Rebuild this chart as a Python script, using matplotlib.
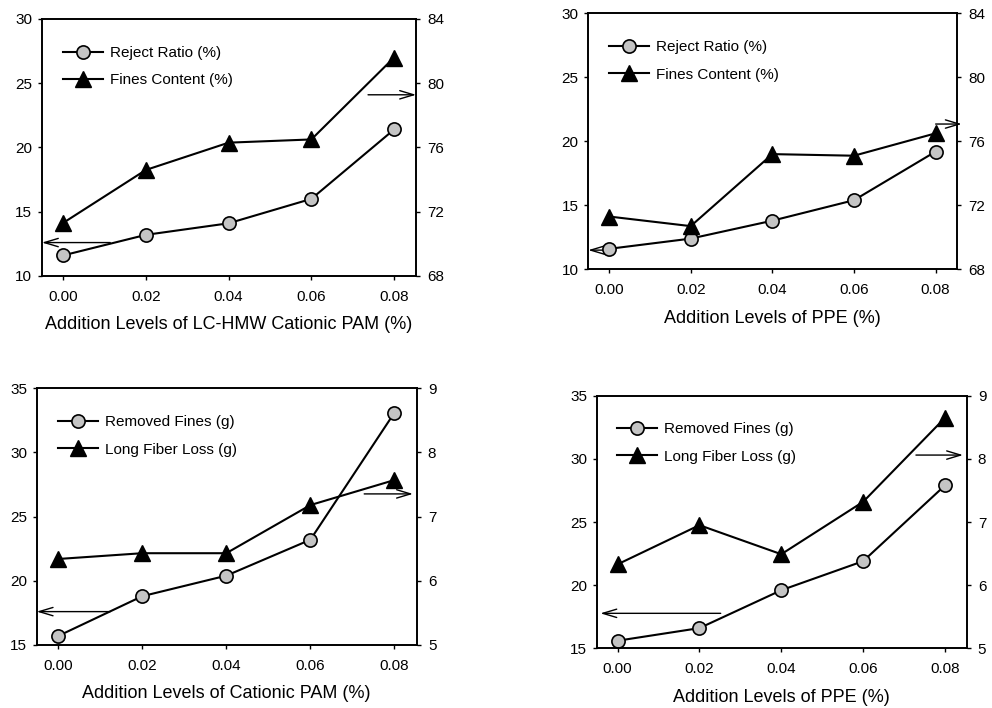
"""Four-panel dual-axis plot: reject ratio / fines vs. polymer addition levels."""
import matplotlib
matplotlib.use("Agg")
import matplotlib.pyplot as plt

plt.rcParams["font.family"] = ["Liberation Sans", "DejaVu Sans"]

# ---- data ----
levels = [0.00, 0.02, 0.04, 0.06, 0.08]
level_labels = ["0.00", "0.02", "0.04", "0.06", "0.08"]

cpam_reject = [11.6, 13.2, 14.1, 16.0, 21.4]
cpam_fines = [71.3, 74.6, 76.3, 76.5, 81.6]
ppe_reject = [11.6, 12.4, 13.8, 15.4, 19.2]
ppe_fines = [71.3, 70.7, 75.2, 75.1, 76.5]

cpam_removed = [15.7, 18.8, 20.4, 23.2, 33.1]
cpam_fiber_loss = [6.34, 6.43, 6.43, 7.18, 7.57]
ppe_removed = [15.6, 16.6, 19.6, 21.9, 27.9]
ppe_fiber_loss = [6.33, 6.95, 6.49, 7.32, 8.65]

top_left_ticks = [10, 15, 20, 25, 30]
top_right_ticks = [68, 72, 76, 80, 84]
bot_left_ticks = [15, 20, 25, 30, 35]
bot_right_ticks = [5, 6, 7, 8, 9]

CIRCLE_FILL = "#c4c4c4"
LW = 1.5


def panel(rect, xlabel, left_y, right_y, left_lbl, right_lbl,
          lticks, rticks, arrows):
    ax = fig.add_axes(rect)
    ax2 = ax.twinx()
    ax.set_xlim(-0.0051, 0.0853)
    ax.set_ylim(lticks[0], lticks[-1])
    ax2.set_ylim(rticks[0], rticks[-1])

    h1, = ax.plot(levels, left_y, "-o", color="black", lw=LW, ms=9.5,
                  mfc=CIRCLE_FILL, mec="black", mew=1.2, label=left_lbl,
                  zorder=4)
    h2, = ax2.plot(levels, right_y, "-^", color="black", lw=LW, ms=11,
                   mfc="black", mec="black", label=right_lbl, zorder=3)

    ax.set_xticks(levels)
    ax.set_xticklabels(level_labels)
    ax.set_yticks(lticks)
    ax2.set_yticks(rticks)
    ax.tick_params(axis="x", direction="out", length=3, width=1, pad=7,
                   labelsize=11)
    ax.tick_params(axis="y", direction="out", length=3, width=1, pad=4,
                   labelsize=11)
    ax2.tick_params(axis="y", direction="out", length=3, width=1, pad=5,
                    labelsize=11)
    for a in (ax, ax2):
        for sp in a.spines.values():
            sp.set_linewidth(1.2)
    ax.set_xlabel(xlabel, fontsize=13, labelpad=9)

    ax.legend([h1, h2], [left_lbl, right_lbl], loc="upper left",
              bbox_to_anchor=(0.056, 0.895), frameon=False, fontsize=11,
              handlelength=2.6, handletextpad=0.45, labelspacing=0.88,
              borderaxespad=0, borderpad=0)

    # direction arrows pointing to the axis each series belongs to
    (lx, ly, lend), (rx, ry, rend) = arrows
    aprops = dict(arrowstyle="->,head_length=1.0,head_width=0.3", lw=1,
                  color="black", shrinkA=0, shrinkB=0)
    ax.annotate("", xy=(lend, ly), xycoords=("axes fraction", "data"),
                xytext=(lx, ly), textcoords="data", arrowprops=aprops)
    ax.annotate("", xy=(rend, ry), xycoords=("axes fraction", "data"),
                xytext=(rx, ry), textcoords="data", arrowprops=aprops)
    return ax


fig = plt.figure(figsize=(9.92, 7.08), dpi=100)

panel([0.0423, 0.6102, 0.3771, 0.3630],
      "Addition Levels of LC-HMW Cationic PAM (%)",
      cpam_reject, cpam_fines, "Reject Ratio (%)", "Fines Content (%)",
      top_left_ticks, top_right_ticks,
      [(0.0114, 12.6, 0.0), (0.0737, 24.1, 1.0)])

panel([0.5930, 0.6196, 0.3720, 0.3616],
      "Addition Levels of PPE (%)",
      ppe_reject, ppe_fines, "Reject Ratio (%)", "Fines Content (%)",
      top_left_ticks, top_right_ticks,
      [(-0.0015, 11.5, 0.0), (0.0800, 21.35, 1.012)])

panel([0.0370, 0.0890, 0.3831, 0.3626],
      "Addition Levels of Cationic PAM (%)",
      cpam_removed, cpam_fiber_loss, "Removed Fines (g)", "Long Fiber Loss (g)",
      bot_left_ticks, bot_right_ticks,
      [(0.0124, 17.6, 0.0), (0.0728, 26.77, 0.99)])

panel([0.6015, 0.0843, 0.3730, 0.3568],
      "Addition Levels of PPE (%)",
      ppe_removed, ppe_fiber_loss, "Removed Fines (g)", "Long Fiber Loss (g)",
      bot_left_ticks, bot_right_ticks,
      [(0.0252, 17.77, 0.01), (0.0729, 30.3, 0.99)])

fig.savefig("out.png", dpi=100)
